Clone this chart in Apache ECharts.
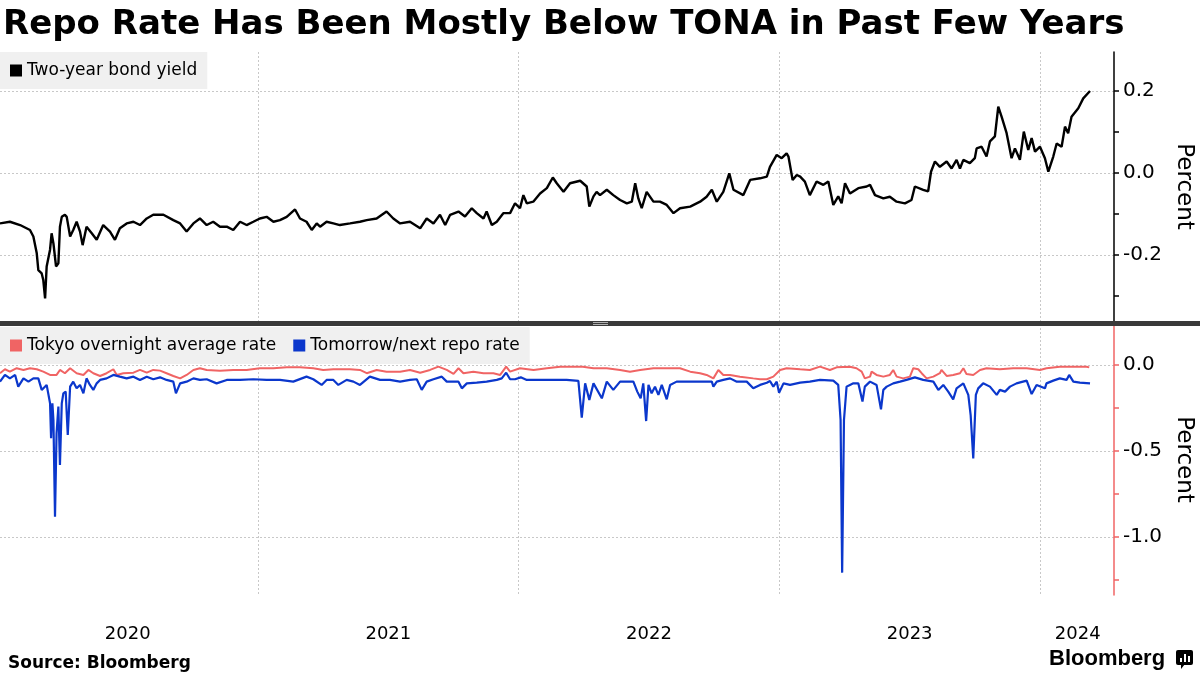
<!DOCTYPE html>
<html>
<head>
<meta charset="utf-8">
<script src="https://cdn.jsdelivr.net/npm/echarts@6/dist/echarts.min.js"></script>
<style>
html,body{margin:0;padding:0;background:#fff;}
#chart{width:1200px;height:675px;}
</style>
</head>
<body>
<div id="chart"></div>
<script>
// ---- Data (x = fractional year) ----
const bondX = [2020.010,2020.048,2020.087,2020.125,2020.138,2020.151,2020.157,2020.170,2020.176,2020.183,2020.189,2020.202,2020.208,2020.215,2020.225,2020.234,2020.240,2020.247,2020.259,2020.266,2020.279,2020.291,2020.304,2020.317,2020.327,2020.342,2020.362,2020.381,2020.406,2020.432,2020.451,2020.470,2020.496,2020.522,2020.547,2020.573,2020.598,2020.637,2020.675,2020.701,2020.726,2020.752,2020.777,2020.803,2020.828,2020.854,2020.880,2020.905,2020.931,2020.956,2020.982,2021.007,2021.033,2021.059,2021.084,2021.110,2021.142,2021.161,2021.186,2021.206,2021.225,2021.238,2021.263,2021.289,2021.314,2021.353,2021.391,2021.417,2021.455,2021.493,2021.519,2021.545,2021.583,2021.622,2021.647,2021.673,2021.698,2021.718,2021.737,2021.769,2021.794,2021.820,2021.839,2021.865,2021.877,2021.897,2021.916,2021.941,2021.967,2021.986,2022.005,2022.018,2022.031,2022.056,2022.082,2022.108,2022.131,2022.146,2022.172,2022.197,2022.236,2022.261,2022.271,2022.287,2022.299,2022.312,2022.338,2022.363,2022.389,2022.415,2022.434,2022.447,2022.459,2022.472,2022.491,2022.517,2022.542,2022.568,2022.594,2022.619,2022.658,2022.696,2022.721,2022.741,2022.760,2022.785,2022.808,2022.824,2022.862,2022.888,2022.926,2022.952,2022.964,2022.990,2023.009,2023.028,2023.035,2023.051,2023.067,2023.080,2023.098,2023.117,2023.143,2023.169,2023.188,2023.207,2023.226,2023.239,2023.252,2023.271,2023.303,2023.335,2023.348,2023.367,2023.399,2023.424,2023.450,2023.482,2023.507,2023.520,2023.552,2023.571,2023.582,2023.597,2023.616,2023.642,2023.661,2023.680,2023.693,2023.706,2023.731,2023.750,2023.757,2023.776,2023.795,2023.808,2023.827,2023.840,2023.853,2023.872,2023.891,2023.904,2023.923,2023.938,2023.955,2023.968,2023.981,2024.000,2024.019,2024.032,2024.051,2024.064,2024.083,2024.096,2024.108,2024.121,2024.147,2024.166,2024.192];
const bondY = [-0.123,-0.119,-0.127,-0.139,-0.155,-0.196,-0.237,-0.245,-0.261,-0.306,-0.228,-0.187,-0.147,-0.172,-0.228,-0.220,-0.131,-0.107,-0.102,-0.107,-0.155,-0.139,-0.119,-0.143,-0.176,-0.131,-0.147,-0.163,-0.127,-0.143,-0.163,-0.135,-0.123,-0.119,-0.127,-0.111,-0.102,-0.102,-0.115,-0.123,-0.143,-0.123,-0.111,-0.127,-0.119,-0.131,-0.131,-0.139,-0.119,-0.127,-0.119,-0.111,-0.107,-0.119,-0.115,-0.107,-0.089,-0.111,-0.119,-0.139,-0.123,-0.131,-0.119,-0.123,-0.127,-0.123,-0.119,-0.115,-0.111,-0.094,-0.111,-0.123,-0.119,-0.135,-0.111,-0.123,-0.102,-0.127,-0.102,-0.094,-0.106,-0.086,-0.098,-0.111,-0.094,-0.127,-0.119,-0.098,-0.098,-0.074,-0.086,-0.054,-0.074,-0.070,-0.050,-0.037,-0.011,-0.025,-0.046,-0.025,-0.019,-0.033,-0.082,-0.057,-0.046,-0.054,-0.041,-0.054,-0.066,-0.074,-0.070,-0.025,-0.062,-0.086,-0.046,-0.070,-0.070,-0.078,-0.098,-0.086,-0.082,-0.070,-0.058,-0.041,-0.070,-0.046,-0.001,-0.041,-0.054,-0.017,-0.013,-0.009,0.015,0.044,0.036,0.048,0.040,-0.017,-0.005,-0.009,-0.021,-0.054,-0.021,-0.029,-0.021,-0.078,-0.057,-0.074,-0.025,-0.050,-0.037,-0.033,-0.029,-0.054,-0.062,-0.058,-0.070,-0.074,-0.066,-0.033,-0.041,-0.045,0.003,0.028,0.015,0.028,0.011,0.032,0.011,0.032,0.024,0.036,0.060,0.064,0.040,0.077,0.089,0.162,0.137,0.097,0.036,0.060,0.032,0.101,0.056,0.085,0.052,0.064,0.036,0.003,0.040,0.072,0.064,0.113,0.097,0.137,0.158,0.182,0.200];

const tonaX = [2020.010,2020.029,2020.048,2020.074,2020.100,2020.125,2020.151,2020.176,2020.202,2020.227,2020.240,2020.259,2020.279,2020.304,2020.330,2020.349,2020.368,2020.394,2020.419,2020.445,2020.458,2020.483,2020.522,2020.547,2020.573,2020.598,2020.624,2020.649,2020.675,2020.701,2020.726,2020.752,2020.777,2020.803,2020.854,2020.905,2020.956,2021.007,2021.059,2021.110,2021.161,2021.212,2021.250,2021.289,2021.353,2021.391,2021.417,2021.455,2021.493,2021.545,2021.583,2021.622,2021.660,2021.692,2021.724,2021.750,2021.769,2021.788,2021.826,2021.865,2021.903,2021.929,2021.952,2021.967,2022.005,2022.057,2022.108,2022.159,2022.210,2022.246,2022.287,2022.338,2022.389,2022.427,2022.466,2022.517,2022.568,2022.619,2022.658,2022.696,2022.721,2022.747,2022.766,2022.785,2022.811,2022.849,2022.900,2022.926,2022.952,2022.977,2023.003,2023.028,2023.080,2023.117,2023.156,2023.194,2023.220,2023.271,2023.296,2023.316,2023.328,2023.348,2023.354,2023.373,2023.399,2023.424,2023.437,2023.450,2023.475,2023.501,2023.514,2023.533,2023.546,2023.565,2023.591,2023.616,2023.622,2023.642,2023.667,2023.693,2023.706,2023.718,2023.744,2023.770,2023.795,2023.846,2023.897,2023.949,2024.000,2024.006,2024.025,2024.076,2024.128,2024.179,2024.189];
const tonaY = [-0.048,-0.025,-0.039,-0.019,-0.029,-0.019,-0.025,-0.039,-0.058,-0.058,-0.029,-0.048,-0.019,-0.048,-0.058,-0.029,-0.048,-0.064,-0.048,-0.025,-0.058,-0.048,-0.045,-0.029,-0.045,-0.029,-0.033,-0.048,-0.064,-0.078,-0.058,-0.029,-0.019,-0.029,-0.033,-0.029,-0.029,-0.019,-0.019,-0.014,-0.014,-0.019,-0.029,-0.025,-0.025,-0.029,-0.048,-0.029,-0.039,-0.039,-0.029,-0.045,-0.029,-0.010,-0.029,-0.052,-0.019,-0.048,-0.039,-0.048,-0.048,-0.058,-0.010,-0.039,-0.019,-0.029,-0.019,-0.010,-0.010,-0.010,-0.019,-0.019,-0.029,-0.039,-0.029,-0.019,-0.019,-0.019,-0.039,-0.048,-0.058,-0.078,-0.029,-0.058,-0.058,-0.068,-0.078,-0.083,-0.083,-0.068,-0.029,-0.019,-0.025,-0.029,-0.010,-0.029,-0.014,-0.010,-0.019,-0.039,-0.078,-0.068,-0.039,-0.058,-0.068,-0.058,-0.029,-0.068,-0.078,-0.068,-0.019,-0.025,-0.048,-0.078,-0.068,-0.048,-0.029,-0.064,-0.058,-0.048,-0.019,-0.052,-0.058,-0.029,-0.019,-0.025,-0.019,-0.019,-0.029,-0.039,-0.019,-0.010,-0.010,-0.010,-0.014];

const repoX = [2020.010,2020.029,2020.048,2020.068,2020.080,2020.100,2020.119,2020.138,2020.157,2020.170,2020.189,2020.202,2020.206,2020.211,2020.215,2020.221,2020.227,2020.234,2020.240,2020.247,2020.253,2020.262,2020.270,2020.279,2020.291,2020.304,2020.317,2020.330,2020.342,2020.355,2020.368,2020.381,2020.394,2020.419,2020.445,2020.470,2020.496,2020.522,2020.547,2020.573,2020.598,2020.624,2020.649,2020.675,2020.685,2020.701,2020.726,2020.752,2020.777,2020.803,2020.841,2020.880,2020.931,2020.982,2021.033,2021.084,2021.135,2021.186,2021.212,2021.244,2021.263,2021.289,2021.308,2021.340,2021.366,2021.391,2021.429,2021.468,2021.506,2021.545,2021.583,2021.609,2021.628,2021.647,2021.673,2021.705,2021.724,2021.750,2021.769,2021.782,2021.801,2021.839,2021.877,2021.916,2021.935,2021.952,2021.967,2021.986,2022.008,2022.031,2022.082,2022.133,2022.184,2022.229,2022.242,2022.255,2022.271,2022.287,2022.319,2022.338,2022.363,2022.389,2022.440,2022.455,2022.468,2022.478,2022.489,2022.498,2022.510,2022.523,2022.536,2022.549,2022.568,2022.581,2022.606,2022.645,2022.696,2022.741,2022.747,2022.760,2022.785,2022.811,2022.837,2022.875,2022.900,2022.926,2022.952,2022.964,2022.977,2022.990,2022.999,2023.016,2023.041,2023.080,2023.117,2023.156,2023.207,2023.226,2023.235,2023.241,2023.248,2023.258,2023.271,2023.284,2023.303,2023.319,2023.328,2023.348,2023.373,2023.390,2023.399,2023.412,2023.437,2023.463,2023.488,2023.520,2023.552,2023.591,2023.610,2023.629,2023.648,2023.667,2023.680,2023.706,2023.725,2023.734,2023.744,2023.754,2023.763,2023.782,2023.808,2023.834,2023.846,2023.866,2023.885,2023.910,2023.949,2023.968,2023.987,2024.019,2024.025,2024.051,2024.076,2024.102,2024.112,2024.128,2024.153,2024.192];
const repoY = [-0.097,-0.058,-0.078,-0.058,-0.126,-0.078,-0.097,-0.078,-0.078,-0.145,-0.116,-0.223,-0.426,-0.223,-0.320,-0.882,-0.397,-0.242,-0.581,-0.223,-0.165,-0.155,-0.407,-0.126,-0.097,-0.136,-0.116,-0.165,-0.078,-0.116,-0.145,-0.107,-0.087,-0.078,-0.058,-0.068,-0.078,-0.068,-0.087,-0.068,-0.083,-0.072,-0.087,-0.097,-0.165,-0.107,-0.097,-0.078,-0.087,-0.083,-0.107,-0.087,-0.087,-0.083,-0.087,-0.087,-0.097,-0.068,-0.083,-0.116,-0.087,-0.087,-0.116,-0.087,-0.097,-0.116,-0.068,-0.087,-0.087,-0.097,-0.087,-0.083,-0.145,-0.097,-0.083,-0.068,-0.097,-0.097,-0.097,-0.136,-0.107,-0.103,-0.097,-0.087,-0.078,-0.045,-0.083,-0.083,-0.072,-0.087,-0.087,-0.087,-0.087,-0.093,-0.306,-0.107,-0.203,-0.107,-0.194,-0.097,-0.145,-0.097,-0.097,-0.155,-0.194,-0.107,-0.326,-0.116,-0.165,-0.126,-0.174,-0.116,-0.200,-0.116,-0.097,-0.097,-0.097,-0.097,-0.126,-0.097,-0.087,-0.078,-0.097,-0.097,-0.136,-0.116,-0.103,-0.093,-0.126,-0.097,-0.161,-0.107,-0.116,-0.103,-0.097,-0.087,-0.091,-0.116,-0.320,-1.207,-0.320,-0.126,-0.116,-0.107,-0.107,-0.213,-0.126,-0.097,-0.116,-0.258,-0.145,-0.126,-0.107,-0.097,-0.087,-0.072,-0.087,-0.097,-0.145,-0.116,-0.155,-0.200,-0.136,-0.107,-0.174,-0.291,-0.543,-0.174,-0.136,-0.107,-0.126,-0.174,-0.145,-0.155,-0.126,-0.107,-0.091,-0.169,-0.116,-0.136,-0.107,-0.091,-0.078,-0.087,-0.058,-0.097,-0.103,-0.107];

const yearLabelPos = [2020.5, 2021.5, 2022.5, 2023.5, 2024.145];
const topTicks = [-0.3, -0.2, -0.1, 0, 0.1, 0.2];
const topLabels = [-0.2, 0, 0.2];
const botTicks = [-1.25, -1.0, -0.75, -0.5, -0.25, 0];
const botLabels = [-1.0, -0.5, 0];

const X_MIN = 2020.010, X_MAX = 2024.284;
const FONT = 'DejaVu Sans';
const RED = '#f06464', BLUE = '#0b37cc';

const pairs = (xs, ys) => xs.map((x, i) => [x, ys[i]]);

const chart = echarts.init(document.getElementById('chart'));

function xAxisDef(gridIndex, showLabels) {
  return {
    type: 'value', gridIndex, min: X_MIN, max: X_MAX, splitNumber: 4,
    axisLine: {show: false}, axisTick: {show: false},
    axisLabel: showLabels ? {
      show: true, customValues: yearLabelPos, margin: 30,
      formatter: v => String(Math.floor(v)),
      color: '#000', fontSize: 18, fontFamily: FONT
    } : {show: false},
    splitLine: {show: true, showMinLine: false, showMaxLine: false,
      lineStyle: {color: '#c8c8c8', type: [2, 2], width: 1}}
  };
}

function yMain(gridIndex, min, max, ticks, labels, color) {
  return {
    type: 'value', gridIndex, position: 'right', min, max,
    axisLine: {show: true, lineStyle: {color, width: 1.5}},
    axisTick: {show: true, customValues: ticks, length: 5, inside: false, lineStyle: {color, width: 1.5}},
    axisLabel: {show: true, customValues: labels, margin: 9, color: '#000', fontSize: 20, fontFamily: FONT,
      padding: [3, 0, 0, 0], formatter: v => v.toFixed(1)},
    splitLine: {show: false},
    name: 'Percent', nameLocation: 'middle', nameRotate: -90, nameGap: 58,
    nameTextStyle: {color: '#000', fontSize: 23, fontFamily: FONT}
  };
}

function ySplit(gridIndex, min, max) {
  return {
    type: 'value', gridIndex, position: 'right', min, max, splitNumber: 3,
    axisLine: {show: false}, axisTick: {show: false}, axisLabel: {show: false},
    splitLine: {show: true, showMinLine: false, showMaxLine: false,
      lineStyle: {color: '#c8c8c8', type: [2, 2], width: 1}}
  };
}

const legendCommon = {
  left: 0, orient: 'horizontal', icon: 'rect', itemWidth: 12, itemHeight: 12,
  itemGap: 17, padding: [10, 10, 10, 10], backgroundColor: '#f0f0f0',
  textStyle: {color: '#000', fontSize: 17, fontFamily: FONT}, selectedMode: false
};

const option = {
  backgroundColor: '#fff',
  animation: false,
  title: [
    {text: 'Repo Rate Has Been Mostly Below TONA in Past Few Years', left: 3, top: 8, padding: 0,
      textStyle: {fontSize: 34, fontWeight: 'bold', color: '#000', fontFamily: FONT}},
    {text: 'Source: Bloomberg', left: 8, top: 655, padding: 0,
      textStyle: {fontSize: 17, fontWeight: 'bold', color: '#000', fontFamily: FONT}}
  ],
  legend: [
    Object.assign({}, legendCommon, {top: 52, data: ['Two-year bond yield']}),
    Object.assign({}, legendCommon, {top: 327, data: ['Tokyo overnight average rate', 'Tomorrow/next repo rate']})
  ],
  grid: [
    {left: 0, right: 86, top: 52, height: 269, outerBoundsMode: 'none', containLabel: false},
    {left: 0, right: 86, top: 324, height: 271, outerBoundsMode: 'none', containLabel: false}
  ],
  xAxis: [xAxisDef(0, false), xAxisDef(1, true)],
  yAxis: [
    yMain(0, -0.361, 0.295, topTicks, topLabels, '#000'),
    ySplit(0, -0.361, 0.295),
    yMain(1, -1.337, 0.238, botTicks, botLabels, RED),
    ySplit(1, -1.337, 0.238)
  ],
  series: [
    {name: 'Two-year bond yield', type: 'line', xAxisIndex: 0, yAxisIndex: 0,
      data: pairs(bondX, bondY), showSymbol: false, color: '#000',
      lineStyle: {color: '#000', width: 2.4}, z: 3},
    {name: 'Tokyo overnight average rate', type: 'line', xAxisIndex: 1, yAxisIndex: 2,
      data: pairs(tonaX, tonaY), showSymbol: false, color: RED,
      lineStyle: {color: RED, width: 2}, z: 3},
    {name: 'Tomorrow/next repo rate', type: 'line', xAxisIndex: 1, yAxisIndex: 2,
      data: pairs(repoX, repoY), showSymbol: false, color: BLUE,
      lineStyle: {color: BLUE, width: 2.2}, z: 4}
  ],
  graphic: [
    {type: 'rect', shape: {x: 0, y: 321, width: 1200, height: 5}, style: {fill: '#3a3a3a'}, z: 100},
    {type: 'rect', shape: {x: 593, y: 322, width: 15, height: 1}, style: {fill: '#b0b0b0'}, z: 101},
    {type: 'rect', shape: {x: 593, y: 324, width: 15, height: 1}, style: {fill: '#b0b0b0'}, z: 101},
    {type: 'text', left: 1049, top: 648, style: {text: 'Bloomberg', fontSize: 22, fontWeight: 'bold',
      fontFamily: 'Liberation Sans', fill: '#000'}, z: 100},
    {type: 'rect', shape: {x: 1176, y: 650, width: 17, height: 15, r: 2}, style: {fill: '#000'}, z: 100},
    {type: 'polygon', shape: {points: [[1181, 664], [1185, 664], [1181, 669]]}, style: {fill: '#000'}, z: 100},
    {type: 'rect', shape: {x: 1180, y: 658, width: 2, height: 4}, style: {fill: '#fff'}, z: 101},
    {type: 'rect', shape: {x: 1184, y: 654, width: 2, height: 8}, style: {fill: '#fff'}, z: 101},
    {type: 'rect', shape: {x: 1188, y: 656, width: 2, height: 6}, style: {fill: '#fff'}, z: 101}
  ]
};
chart.setOption(option);
</script>
</body>
</html>
